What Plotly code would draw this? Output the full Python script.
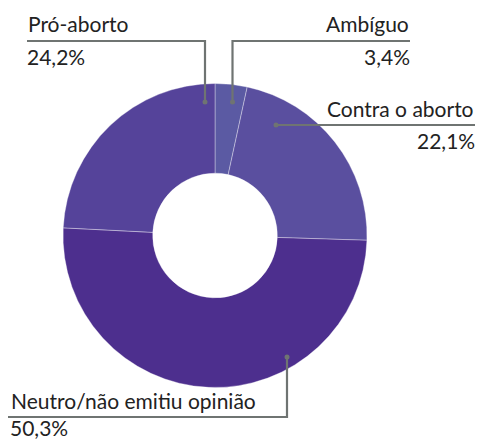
import plotly.graph_objects as go

W, H = 480, 441

categorias = ["Ambíguo", "Contra o aborto", "Neutro/não emitiu opinião", "Pró-aborto"]
valores = [3.4, 22.1, 50.3, 24.2]
rotulos = ["3,4%", "22,1%", "50,3%", "24,2%"]
cores = ["#5B5AA3", "#5A4F9F", "#4D2F8E", "#55439A"]

LINE = "#6f7472"
TXT = "#222222"
FONT = "Lato, 'Noto Sans', sans-serif"


def px(x):
    return x / W


def py(y):
    return 1 - y / H


fig = go.Figure(go.Pie(
    labels=categorias, values=valores,
    hole=0.41, sort=False, direction="clockwise", rotation=0,
    marker=dict(colors=cores, line=dict(color="rgba(255,255,255,0.35)", width=1)),
    textinfo="none", hoverinfo="none", showlegend=False,
    domain=dict(x=[px(63), px(367)], y=[py(387.5), py(83.5)]),
))

# guias: (pontos do caminho em pixels, índice, alinhamento, x do texto)
guias = [
    ([(205, 102), (205, 41), (27, 41)], 3, "left", 26),
    ([(232.5, 102), (232.5, 41), (410, 41)], 0, "right", 411),
    ([(276, 125), (475, 125)], 1, "right", 476),
    ([(287, 357), (287, 417), (8, 417)], 2, "left", 9),
]

shapes = []
annotations = []
for pts, i, anchor, tx in guias:
    path = "M " + " L ".join(f"{px(x)},{py(y)}" for x, y in pts)
    shapes.append(dict(type="path", path=path, xref="paper", yref="paper",
                       line=dict(color=LINE, width=2.2)))
    x0, y0 = pts[0]
    shapes.append(dict(type="circle", xref="paper", yref="paper",
                       x0=px(x0 - 2.5), x1=px(x0 + 2.5), y0=py(y0 + 2.5), y1=py(y0 - 2.5),
                       fillcolor=LINE, line=dict(width=0)))
    ly = pts[-1][1]
    annotations.append(dict(x=px(tx), y=py(ly - 17), xref="paper", yref="paper",
                            text=categorias[i], showarrow=False, xanchor=anchor,
                            yanchor="middle", font=dict(size=21, color=TXT, family=FONT)))
    # valor logo abaixo da linha (o de baixo encosta na borda da figura)
    yv, ya = (py(ly + 15), "middle") if ly + 30 < H else (0, "bottom")
    annotations.append(dict(x=px(tx), y=yv, xref="paper", yref="paper",
                            text=rotulos[i], showarrow=False, xanchor=anchor,
                            yanchor=ya, borderpad=0,
                            font=dict(size=21, color=TXT, family=FONT)))

fig.update_layout(
    width=W, height=H,
    margin=dict(l=0, r=0, t=0, b=0),
    paper_bgcolor="white", plot_bgcolor="white",
    shapes=shapes, annotations=annotations,
    font=dict(family=FONT),
    hovermode=False,
)

fig.write_html("out.html", config={"displayModeBar": False},
               post_script="document.body.style.margin='0';")
